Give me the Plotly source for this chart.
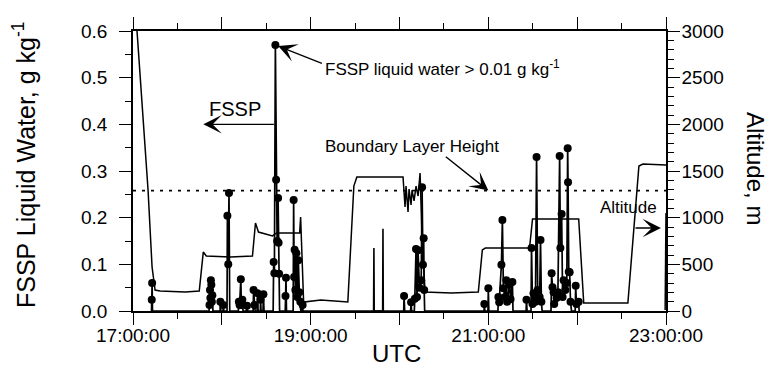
import plotly.graph_objects as go

DAY = "2000-01-01 "

# Aircraft altitude (m), right axis; None marks a break in the record
alt_time = [
    "17:02:43", "17:10:10", "17:12:53", "17:14:55", "17:18:18", "17:35:15",
    "17:44:45", "17:47:28", "17:49:30", "18:05:46", "18:20:41", "18:22:43",
    "18:24:45", "18:34:14", "18:36:57", "18:52:33", "18:53:13", "18:55:15",
    "19:06:47", "19:16:58", "19:25:06", "19:29:10", "19:31:12", "20:02:23",
    "20:03:04", "20:03:44", "20:04:25", "20:05:46", "20:06:27", "20:07:48",
    "20:08:29", "20:09:50", "20:11:12", "20:12:33", "20:13:54", "20:15:16",
    "20:17:18", "20:34:56", "20:53:14", "20:55:57", "20:57:59", "21:27:49",
    "21:29:51", "22:01:02", "22:04:26", "22:34:15", "22:41:42", "22:44:25",
    "23:00:00", None, "22:59:25", "23:00:00",
]
alt_m = [
    3000, 1296, 471, 225, 214, 204,
    214, 632, 589, 579, 589, 943,
    846, 804, 836, 836, 1007, 96,
    118, 107, 96, 1339, 1436, 1436,
    1243, 1114, 1339, 1061, 1307, 1136,
    1296, 1179, 1339, 1232, 1479, 761,
    204, 193, 204, 654, 675, 675,
    986, 986, 86, 86, 1554, 1575,
    1564, None, 10, 1050,
]

# FSSP liquid water content (g/kg), left axis
fssp_time = [
    "17:12:30", "17:12:40", "17:12:55", "17:13:10",
    "17:51:20", "17:51:40", "17:52:00", "17:52:15", "17:52:35", "17:52:55",
    "17:53:15", "17:53:35", "17:54:00",
    "17:58:50", "17:59:00", "17:59:20", "18:00:50", "18:01:00", "18:01:20",
    "18:03:30", "18:03:45", "18:04:20", "18:04:50", "18:05:20",
    "18:11:10", "18:11:30", "18:12:00", "18:12:50", "18:13:10", "18:13:50",
    "18:14:20", "18:16:40", "18:17:00", "18:17:20",
    "18:21:10", "18:21:25", "18:22:00", "18:22:30", "18:23:50", "18:24:05",
    "18:24:30", "18:26:00", "18:26:10", "18:26:30", "18:27:50", "18:28:05",
    "18:28:30",
    "18:34:40", "18:35:00", "18:35:30", "18:36:10", "18:36:40", "18:37:20",
    "18:38:00", "18:38:20", "18:38:40", "18:39:00",
    "18:42:50", "18:43:00", "18:43:20", "18:43:40",
    "18:48:10", "18:48:30", "18:48:50", "18:49:10", "18:49:40", "18:50:20",
    "18:51:00", "18:51:40", "18:52:20", "18:53:00", "18:53:20",
    "18:54:20", "18:54:35", "18:54:50",
    "20:02:50", "20:03:05", "20:03:30", "20:07:30", "20:07:50", "20:08:10",
    "20:10:00", "20:10:20", "20:11:10", "20:11:50", "20:12:30", "20:13:30",
    "20:14:40", "20:15:15", "20:15:50", "20:16:20", "20:16:40", "20:17:00",
    "20:57:05", "20:57:18", "20:57:40", "20:59:45", "21:00:00", "21:00:20",
    "21:06:30", "21:06:47", "21:07:20", "21:08:50", "21:09:30", "21:10:10",
    "21:11:20", "21:12:10", "21:12:40", "21:14:15", "21:15:00", "21:16:15",
    "21:16:40",
    "21:25:30", "21:25:46", "21:26:10", "21:28:50", "21:29:10", "21:29:50",
    "21:30:30", "21:31:50", "21:32:35", "21:33:20", "21:33:55", "21:34:40",
    "21:35:15", "21:35:50", "21:36:20",
    "21:42:20", "21:42:45", "21:43:20", "21:44:05", "21:44:30", "21:46:05",
    "21:47:00", "21:48:10", "21:48:40", "21:49:30", "21:50:10", "21:50:50",
    "21:52:00", "21:53:00", "21:53:35", "21:53:50", "21:54:20", "21:54:55",
    "21:55:30", "21:56:10", "21:58:40", "21:59:00", "21:59:30", "22:01:00",
    "22:01:20",
]
fssp_lwc = [
    0, 0.024, 0.060, 0,
    0, 0.013, 0.045, 0.028, 0.066, 0.056,
    0.020, 0.034, 0,
    0, 0.020, 0, 0, 0.013, 0,
    0, 0.204, 0.100, 0.253, 0,
    0, 0.020, 0.013, 0.068, 0.013, 0.024,
    0, 0, 0.011, 0,
    0, 0.045, 0.013, 0, 0, 0.038,
    0, 0, 0.024, 0, 0, 0.036,
    0,
    0, 0.105, 0.081, 0.570, 0.281, 0.150,
    0.242, 0.146, 0.080, 0,
    0, 0.032, 0.071, 0,
    0, 0.238, 0.073, 0.131, 0.045, 0.124,
    0.030, 0.109, 0.040, 0.020, 0,
    0, 0.013, 0,
    0, 0.032, 0, 0, 0.019, 0,
    0, 0.026, 0.133, 0.030, 0.130, 0.050,
    0.066, 0.265, 0.099, 0.156, 0.045, 0,
    0, 0.015, 0, 0, 0.049, 0,
    0, 0.030, 0.019, 0.099, 0.195, 0.049,
    0.030, 0.066, 0.020, 0.056, 0.025, 0.062,
    0,
    0, 0.024, 0, 0, 0.135, 0.015,
    0.038, 0.020, 0.330, 0.045, 0.024, 0.030,
    0.152, 0.020, 0,
    0, 0.081, 0.051, 0.040, 0.015, 0.028,
    0.040, 0.332, 0.135, 0.208, 0.030, 0.066,
    0.045, 0.060, 0.349, 0.276, 0.084, 0.083,
    0.020, 0, 0, 0.054, 0.015, 0.020,
    0,
]

# Short FSSP spikes above the boundary layer (not flagged)
spike_time = ["19:42:30", "19:42:43", "19:42:56", "19:48:37", "19:48:50", "19:49:03"]
spike_lwc = [0, 0.135, 0, 0, 0.176, 0]

lwc_threshold = 0.01          # g/kg, points above this are marked
bl_height_m = 1290            # boundary layer height (m)

x_start, x_end = "17:00:00", "23:00:00"
hour_ticks = ["17:00:00", "18:00:00", "19:00:00", "20:00:00",
              "21:00:00", "22:00:00", "23:00:00"]
hour_labels = ["17:00:00", "", "19:00:00", "", "21:00:00", "", "23:00:00"]


def ts(t):
    return None if t is None else DAY + t


FONT = "Liberation Sans, Arial, Helvetica, sans-serif"
W, H = 769, 377
ML, MR, MT, MB = 133, 103, 31, 66
PW, PH = W - ML - MR, H - MT - MB


def px(x):
    return (x - ML) / PW


def py(y):
    return (H - MB - y) / PH


fig = go.Figure()

fig.add_trace(go.Scatter(
    x=[ts(t) for t in alt_time], y=alt_m, yaxis="y2", mode="lines",
    line=dict(color="black", width=1.5), connectgaps=False,
    showlegend=False, hoverinfo="skip"))

fig.add_trace(go.Scatter(
    x=[ts(x_start), ts(x_end)], y=[bl_height_m, bl_height_m], yaxis="y2",
    mode="lines", line=dict(color="black", width=1.6, dash="3px,6px"),
    showlegend=False, hoverinfo="skip"))

fig.add_trace(go.Scatter(
    x=[ts(t) for t in spike_time], y=spike_lwc, mode="lines",
    line=dict(color="black", width=1.6), showlegend=False, hoverinfo="skip"))

fig.add_trace(go.Scatter(
    x=[ts(t) for t in fssp_time], y=fssp_lwc, mode="lines+markers",
    line=dict(color="black", width=1.7),
    marker=dict(color="black", opacity=1, line=dict(width=0),
                size=[8 if v > lwc_threshold else 0 for v in fssp_lwc]),
    showlegend=False, hoverinfo="skip"))

tickfont = dict(family=FONT, size=19, color="black")

fig.update_layout(
    width=W, height=H,
    margin=dict(l=ML, r=MR, t=MT, b=MB),
    paper_bgcolor="white", plot_bgcolor="white",
    font=dict(family=FONT, color="black"),
    xaxis=dict(
        type="date", range=[ts(x_start), ts(x_end)],
        tickmode="array", tickvals=[ts(t) for t in hour_ticks], ticktext=hour_labels,
        ticks="outside", ticklen=12, tickwidth=1.4, tickcolor="black",
        minor=dict(dtick=30 * 60 * 1000, ticks="outside", ticklen=6,
                   tickwidth=1.2, tickcolor="black"),
        showline=True, linecolor="black", linewidth=1.5, mirror="ticks",
        showgrid=False, zeroline=False, tickfont=tickfont, ticklabelstandoff=-6,
    ),
    yaxis=dict(
        range=[0, 0.6], dtick=0.1, tickformat=".1f",
        ticks="outside", ticklen=12, tickwidth=1.4, tickcolor="black",
        minor=dict(dtick=0.05, ticks="outside", ticklen=6, tickwidth=1.2,
                   tickcolor="black"),
        showline=True, linecolor="black", linewidth=1.5,
        showgrid=False, zeroline=False, tickfont=tickfont, ticklabelstandoff=8,
    ),
    yaxis2=dict(
        range=[0, 3000], dtick=500, overlaying="y", side="right",
        ticks="outside", ticklen=12, tickwidth=1.4, tickcolor="black",
        minor=dict(dtick=100, ticks="outside", ticklen=6, tickwidth=1.2,
                   tickcolor="black"),
        showline=True, linecolor="black", linewidth=1.5,
        showgrid=False, zeroline=False, tickfont=tickfont, ticklabelstandoff=-2,
    ),
)

ann_font = dict(family=FONT, size=17, color="black")
arrow = dict(showarrow=True, arrowhead=3, arrowsize=2.2, arrowwidth=1.4,
             arrowcolor="black", text="")

# axis titles
fig.add_annotation(text="FSSP Liquid Water, g kg<sup>-1</sup>", xref="paper", yref="paper",
                   x=px(24), y=py(165), xanchor="center", yanchor="middle",
                   textangle=-90, showarrow=False,
                   font=dict(family=FONT, size=25, color="black"))
fig.add_annotation(text="Altitude, m", xref="paper", yref="paper",
                   x=px(756), y=py(168), xanchor="center", yanchor="middle",
                   textangle=90, showarrow=False,
                   font=dict(family=FONT, size=24, color="black"))
fig.add_annotation(text="UTC", xref="paper", yref="paper",
                   x=px(396), y=py(353), xanchor="center", yanchor="middle",
                   showarrow=False, font=dict(family=FONT, size=24, color="black"))

# labels inside the plot
fig.add_annotation(text="FSSP liquid water &gt; 0.01 g kg<sup>-1</sup>", xref="paper",
                   yref="paper", x=px(323), y=py(68), xanchor="left", yanchor="middle",
                   showarrow=False, font=ann_font)
fig.add_annotation(text="FSSP", xref="paper", yref="paper", x=px(235), y=py(109),
                   xanchor="center", yanchor="middle",
                   showarrow=False, font=dict(family=FONT, size=20, color="black"))
fig.add_annotation(text="Boundary Layer Height", xref="paper", yref="paper",
                   x=px(323), y=py(146), xanchor="left", yanchor="middle",
                   showarrow=False, font=ann_font)
fig.add_annotation(text="Altitude", xref="paper", yref="paper",
                   x=px(598), y=py(207), xanchor="left", yanchor="middle",
                   showarrow=False, font=ann_font)

# arrows
peak_i = fssp_lwc.index(max(fssp_lwc))
fig.add_annotation(x=ts(fssp_time[peak_i]), y=fssp_lwc[peak_i], xref="x", yref="y",
                   ax=48, ay=19, standoff=3, **arrow)
fig.add_annotation(x=ts("17:47:30"), y=0.4, xref="x", yref="y",
                   ax=ts(fssp_time[peak_i]), ay=0.4, axref="x", ayref="y", **arrow)
fig.add_annotation(x=ts("21:00:00"), y=bl_height_m, xref="x", yref="y2",
                   ax=-44, ay=-35, **arrow)
fig.add_annotation(x=ts("22:56:36"), y=889, xref="x", yref="y2",
                   ax=-27, ay=0, **arrow)

fig.write_html("out.html")
